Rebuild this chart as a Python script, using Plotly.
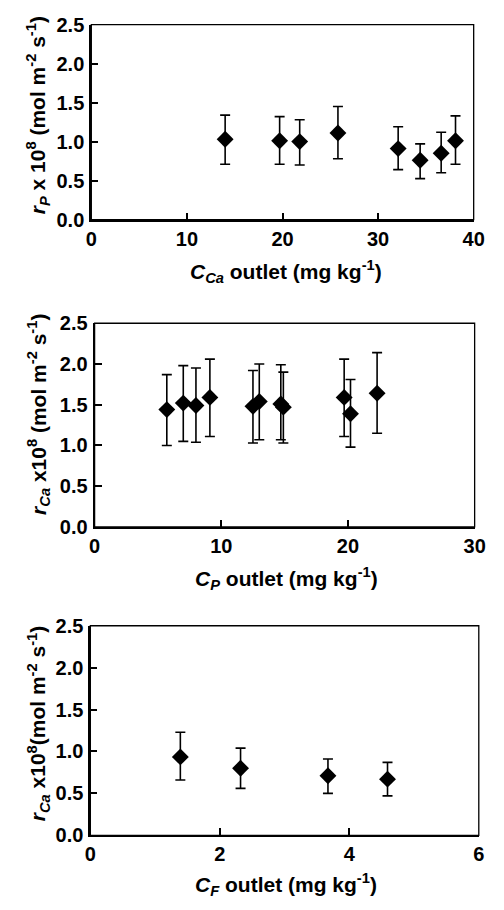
import plotly.graph_objects as go

# ---------------- data ----------------
p1_x = [14.0, 19.7, 21.8, 25.8, 32.1, 34.4, 36.6, 38.1]
p1_y = [1.03, 1.01, 1.00, 1.11, 0.91, 0.76, 0.85, 1.01]
p1_err_plus = [0.31, 0.31, 0.28, 0.34, 0.28, 0.21, 0.27, 0.32]
p1_err_minus = [0.32, 0.30, 0.30, 0.33, 0.27, 0.235, 0.25, 0.30]

p2_x = [5.7, 7.0, 8.0, 9.1, 12.5, 13.0, 14.7, 14.9, 19.7, 20.2, 22.3]
p2_y = [1.44, 1.52, 1.49, 1.59, 1.48, 1.54, 1.51, 1.47, 1.59, 1.39, 1.64]
p2_err_plus = [0.43, 0.46, 0.46, 0.47, 0.44, 0.46, 0.48, 0.43, 0.47, 0.42, 0.50]
p2_err_minus = [0.44, 0.47, 0.45, 0.48, 0.45, 0.47, 0.44, 0.44, 0.48, 0.41, 0.49]

p3_x = [1.39, 2.32, 3.67, 4.59]
p3_y = [0.935, 0.80, 0.71, 0.67]
p3_err_plus = [0.295, 0.24, 0.20, 0.20]
p3_err_minus = [0.275, 0.24, 0.21, 0.20]

y_ticks = [0.0, 0.5, 1.0, 1.5, 2.0, 2.5]
y_ticklabels = ["0.0", "0.5", "1.0", "1.5", "2.0", "2.5"]
x1_ticks = [0, 10, 20, 30, 40]
x2_ticks = [0, 10, 20, 30]
x3_ticks = [0, 2, 4, 6]

x_titles = [
    "<b><i>C</i><sub><i>Ca</i></sub> outlet (mg kg<sup>-1</sup>)</b>",
    "<b><i>C</i><sub><i>P</i></sub> outlet (mg kg<sup>-1</sup>)</b>",
    "<b><i>C</i><sub><i>F</i></sub> outlet (mg kg<sup>-1</sup>)</b>",
]
y_titles = [
    "<b><i>r</i><sub><i>P</i></sub> x 10<sup>8</sup> (mol m<sup>-2</sup> s<sup>-1</sup>)</b>",
    "<b><i>r</i><sub><i>Ca</i></sub> x10<sup>8</sup> (mol m<sup>-2</sup> s<sup>-1</sup>)</b>",
    "<b><i>r</i><sub><i>Ca</i></sub> x10<sup>8</sup>(mol m<sup>-2</sup> s<sup>-1</sup>)</b>",
]

# ---------------- layout geometry ----------------
W, H = 504, 910
FONT = "Liberation Sans, Arial, sans-serif"

panels = [
    dict(x=p1_x, y=p1_y, ep=p1_err_plus, em=p1_err_minus, xt=x1_ticks,
         px=(88.3, 484.0), py=(14.0, 213.7), xtitle_y=267, ytitle_y=107),
    dict(x=p2_x, y=p2_y, ep=p2_err_plus, em=p2_err_minus, xt=x2_ticks,
         px=(91.7, 485.0), py=(320.0, 528.7), xtitle_y=582, ytitle_y=413),
    dict(x=p3_x, y=p3_y, ep=p3_err_plus, em=p3_err_minus, xt=x3_ticks,
         px=(87.3, 489.3), py=(630.0, 844.7), xtitle_y=895, ytitle_y=730),
]

fig = go.Figure()
layout = dict(
    width=W, height=H,
    margin=dict(l=0, r=0, t=0, b=0, pad=0),
    paper_bgcolor="white", plot_bgcolor="white",
    showlegend=False,
    font=dict(family=FONT, color="black"),
)
annotations = []
shapes = []

for i, p in enumerate(panels):
    n = i + 1
    xa = "x" if n == 1 else f"x{n}"
    ya = "y" if n == 1 else f"y{n}"
    fig.add_trace(go.Scatter(
        x=p["x"], y=p["y"], mode="markers",
        marker=dict(symbol="diamond", size=13, color="black"),
        error_y=dict(type="data", symmetric=False, array=p["ep"], arrayminus=p["em"],
                     color="black", thickness=1.6, width=5),
        xaxis=xa, yaxis=ya,
    ))
    xdom = [p["px"][0] / W, p["px"][1] / W]
    ydom = [1 - p["py"][1] / H, 1 - p["py"][0] / H]
    xmax = p["xt"][-1]
    layout[f"xaxis{'' if n == 1 else n}"] = dict(
        domain=xdom, anchor=ya, range=[0, xmax], tickvals=p["xt"],
        ticktext=[f"<b>{v}</b>" for v in p["xt"]],
        ticks="inside", ticklen=7, tickwidth=1.5, tickcolor="black",
        showline=True, linewidth=2, linecolor="black", mirror=False,
        showgrid=False, zeroline=False,
        tickfont=dict(family=FONT, size=20, color="black"),
        ticklabelstandoff=0,
    )
    layout[f"yaxis{'' if n == 1 else n}"] = dict(
        domain=ydom, anchor=xa, range=[0, 2.5], tickvals=y_ticks,
        ticktext=[f"<b>{t}</b>" for t in y_ticklabels],
        ticks="inside", ticklen=7, tickwidth=1.5, tickcolor="black",
        showline=True, linewidth=2, linecolor="black", mirror=False,
        showgrid=False, zeroline=False,
        tickfont=dict(family=FONT, size=20, color="black"),
        ticklabelstandoff=1,
    )
    shapes.append(dict(type="rect", xref=f"{xa} domain", yref=f"{ya} domain",
                       x0=0, x1=1, y0=0, y1=1, line=dict(color="black", width=1.3),
                       fillcolor="rgba(0,0,0,0)", layer="above"))
    annotations.append(dict(
        text=x_titles[i], xref="paper", yref="paper",
        x=290 / W, y=1 - p["xtitle_y"] / H, xanchor="center", yanchor="middle",
        showarrow=False, font=dict(family=FONT, size=21, color="black"),
    ))
    annotations.append(dict(
        text=y_titles[i], xref="paper", yref="paper", textangle=-90,
        x=33 / W, y=1 - p["ytitle_y"] / H, xanchor="center", yanchor="middle",
        showarrow=False, font=dict(family=FONT, size=21, color="black"),
    ))

layout["annotations"] = annotations
layout["shapes"] = shapes
fig.update_layout(**layout)
fig.write_html("out.html")
